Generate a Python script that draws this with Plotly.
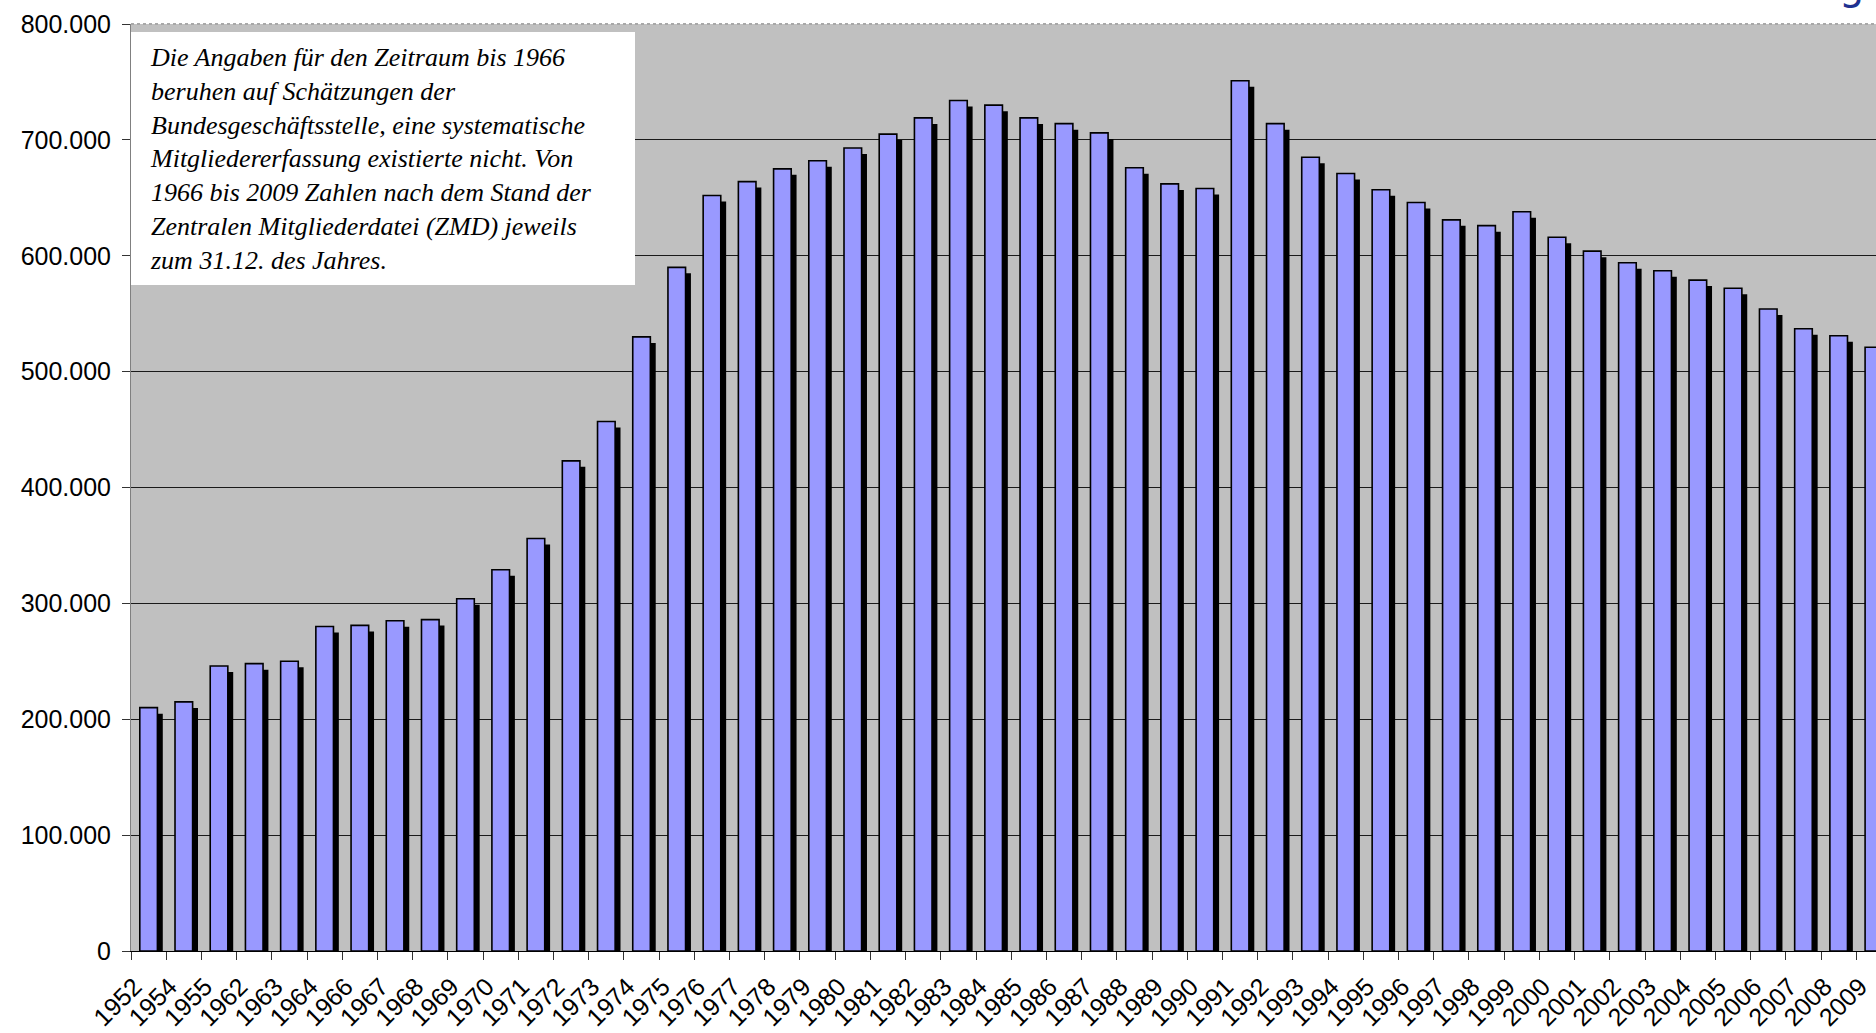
import plotly.graph_objects as go

years = ["1952", "1954", "1955", "1962", "1963", "1964", "1966", "1967", "1968", "1969",
         "1970", "1971", "1972", "1973", "1974", "1975", "1976", "1977", "1978", "1979",
         "1980", "1981", "1982", "1983", "1984", "1985", "1986", "1987", "1988", "1989",
         "1990", "1991", "1992", "1993", "1994", "1995", "1996", "1997", "1998", "1999",
         "2000", "2001", "2002", "2003", "2004", "2005", "2006", "2007", "2008", "2009"]

members = [210000, 215000, 246000, 248000, 250000, 280000, 281000, 285000, 286000, 304000,
           329000, 356000, 423000, 457000, 530000, 590000, 652000, 664000, 675000, 682000,
           693000, 705000, 719000, 734000, 730000, 719000, 714000, 706000, 676000, 662000,
           658000, 751000, 714000, 685000, 671000, 657000, 646000, 631000, 626000, 638000,
           616000, 604000, 594000, 587000, 579000, 572000, 554000, 537000, 531000, 521000]

y_ticks = [0, 100000, 200000, 300000, 400000, 500000, 600000, 700000, 800000]

note_lines = [
    "Die Angaben für den Zeitraum bis 1966",
    "beruhen auf Schätzungen der",
    "Bundesgeschäftsstelle, eine systematische",
    "Mitgliedererfassung existierte nicht. Von",
    "1966 bis 2009 Zahlen nach dem Stand der",
    "Zentralen Mitgliederdatei (ZMD) jeweils",
    "zum 31.12. des Jahres.",
]

SHADOW_DROP = 5200  # visual drop of the 3D shadow (style)

fig = go.Figure()
fig.add_bar(
    x=years, y=[v - SHADOW_DROP for v in members],
    width=0.5, offset=-0.097,
    marker=dict(color="black", line=dict(width=0)),
    hoverinfo="skip", showlegend=False,
)
fig.add_bar(
    x=years, y=members,
    width=0.5, offset=-0.25,
    marker=dict(color="#9999FF", line=dict(color="black", width=1.6)),
    showlegend=False,
)

W, H = 1876, 1033
ML, MR, MT, MB = 131, 0, 24, 82
pw = W - ML - MR
cat_px = 35.21

fig.update_layout(
    width=W, height=H,
    barmode="overlay",
    separators=",.",
    margin=dict(l=ML, r=MR, t=MT, b=MB, autoexpand=False),
    plot_bgcolor="#C0C0C0",
    paper_bgcolor="white",
    font=dict(family="Liberation Sans, Arial, sans-serif", size=25, color="black"),
    xaxis=dict(
        type="category",
        range=[-0.5, -0.5 + pw / cat_px],
        tickson="boundaries",
        ticks="outside", ticklen=8, tickcolor="#333333", tickwidth=1,
        showline=True, linecolor="black", linewidth=1,
        showgrid=False,
        tickangle=-45,
        tickfont=dict(size=25),
        ticklabelshift=-14,
        ticklabelstandoff=10,
    ),
    yaxis=dict(
        range=[0, 800000],
        tickvals=y_ticks,
        tickformat=",",
        ticks="outside", ticklen=8, tickcolor="#333333",
        showline=True, linecolor="#808080", linewidth=1,
        showgrid=True, gridcolor="#1a1a1a", gridwidth=1,
        zeroline=False,
        tickfont=dict(size=25),
        ticklabelstandoff=6,
    ),
    shapes=[
        dict(type="line", xref="paper", yref="paper", x0=0, x1=1, y0=1, y1=1,
             line=dict(color="#A8A8A8", width=2, dash="dot")),
        dict(type="rect", xref="paper", yref="paper",
             x0=0, x1=504 / pw, y0=(951 - 285) / 927, y1=(951 - 32) / 927,
             fillcolor="white", line=dict(width=0), layer="above"),
    ],
    annotations=[
        dict(
            text="<i>" + "<br>".join(note_lines) + "</i>",
            xref="paper", yref="paper",
            x=17 / pw, y=(951 - 159) / 927,
            xanchor="left", yanchor="middle",
            align="left", showarrow=False,
            font=dict(family="Liberation Serif, Times New Roman, serif", size=26, color="black"),
        ),
        dict(
            text="g",
            xref="paper", yref="paper",
            x=(1851 - ML) / pw, y=1, xanchor="center", yanchor="bottom",
            yshift=14, showarrow=False,
            font=dict(family="DejaVu Sans, Verdana, sans-serif", size=40, color="#1F3190"),
        ),
    ],
)

fig.write_html("out.html", config={"displayModeBar": False},
               post_script="document.body.style.margin='0';document.body.style.overflow='hidden';")
